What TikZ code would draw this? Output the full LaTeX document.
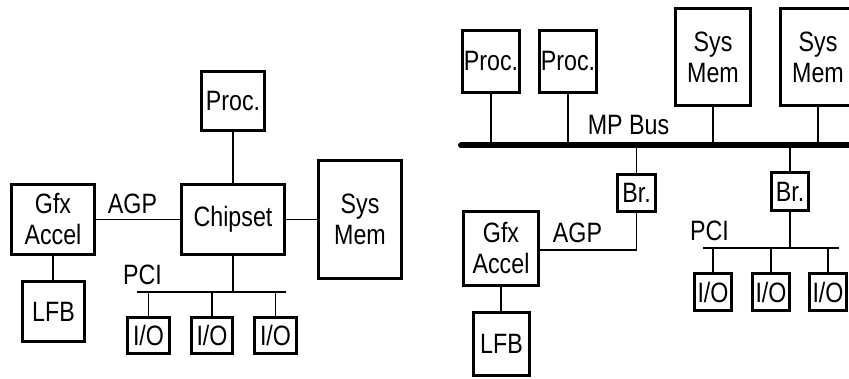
\documentclass[tikz,border=0pt]{standalone}
\usepackage{fontspec}
\setmainfont{Liberation Sans}[FakeStretch=0.83]
\usetikzlibrary{calc}

\begin{document}
\begin{tikzpicture}[x=1pt, y=-1pt,
  unit/.style={draw, line width=3pt, inner sep=0pt, align=center,
    font=\fontsize{28}{31}\selectfont},
  wire/.style={line width=1.7pt},
  mpbus/.style={line width=6pt, line cap=round},
  lbl/.style={inner sep=0pt, font=\fontsize{28}{31}\selectfont}]
  \clip (0,0) rectangle (849,379);

  % single processor system
  \node[unit, minimum width=63, minimum height=59] (procL) at (233,101) {Proc.};
  \node[unit, minimum width=103, minimum height=70] (chip) at (233,219.5) {Chipset};
  \node[unit, minimum width=83, minimum height=70] (gfxL) at (53,219.5) {Gfx\\Accel};
  \node[unit, minimum width=83, minimum height=118] (memL) at (360,219.5) {Sys\\Mem};
  \node[unit, minimum width=62, minimum height=60] (lfbL) at (53.5,311.5) {LFB};
  \node[unit, minimum width=42, minimum height=36] (ioL1) at (148.5,335.5) {I/O};
  \node[unit, minimum width=41, minimum height=36] (ioL2) at (212,335.5) {I/O};
  \node[unit, minimum width=42, minimum height=36] (ioL3) at (275.5,335.5) {I/O};
  \node[lbl] (agpL) at (132.5,204) {AGP};
  \node[lbl, anchor=west] (pciL) at (123,275) {PCI};
  \coordinate (pciLa) at (137,292);
  \coordinate (pciLb) at (286,292);

  \draw[wire] (procL) -- (chip);
  \draw[wire] (gfxL) -- (chip);
  \draw[wire] (chip) -- (memL);
  \draw[wire] (gfxL.south) -- (gfxL.south |- lfbL.north);
  \draw[wire] (pciLa) -- (pciLb);
  \draw[wire] (chip.south) -- (chip.south |- pciLa);
  \foreach \io in {ioL1,ioL2,ioL3}
    \draw[wire] (\io.north) -- (\io.north |- pciLa);

  % multiprocessor system
  \node[unit, minimum width=57, minimum height=62] (proc1) at (491,61.5) {Proc.};
  \node[unit, minimum width=57, minimum height=62] (proc2) at (568,61.5) {Proc.};
  \node[unit, minimum width=75, minimum height=97] (mem1) at (713,57) {Sys\\Mem};
  \node[unit, minimum width=75, minimum height=97] (mem2) at (818,57) {Sys\\Mem};
  \node[lbl] (mpb) at (628.5,125.5) {MP Bus};
  \coordinate (busA) at (461,145.5);
  \coordinate (busB) at (870,145.5);
  \node[unit, minimum width=38, minimum height=37] (br1) at (636.5,193) {Br.};
  \node[unit, minimum width=37, minimum height=38] (br2) at (790,192) {Br.};
  \node[unit, minimum width=75, minimum height=74] (gfxR) at (501,248.5) {Gfx\\Accel};
  \node[unit, minimum width=56, minimum height=63] (lfbR) at (501.5,344) {LFB};
  \node[lbl] (agpR) at (577.5,233) {AGP};
  \node[lbl, anchor=west] (pciR) at (690,231) {PCI};
  \coordinate (pciRa) at (703,248);
  \coordinate (pciRb) at (839,248);
  \node[unit, minimum width=37, minimum height=37] (ioR1) at (713,292) {I/O};
  \node[unit, minimum width=37, minimum height=37] (ioR2) at (771,292) {I/O};
  \node[unit, minimum width=37, minimum height=37] (ioR3) at (828,292) {I/O};

  \draw[mpbus] (busA) -- (busB);
  \foreach \top in {proc1,proc2,mem1,mem2}
    \draw[wire] (\top.south) -- (\top.south |- busA);
  \draw[wire] (br1.north) -- (br1.north |- busA);
  \draw[wire] (br2.north) -- (br2.north |- busA);
  \draw[wire] (gfxR.east |- 0,250) -| (br1.south);
  \draw[wire] (gfxR.south) -- (gfxR.south |- lfbR.north);
  \draw[wire] (pciRa) -- (pciRb);
  \draw[wire] (br2.south) -- (br2.south |- pciRa);
  \foreach \io in {ioR1,ioR2,ioR3}
    \draw[wire] (\io.north) -- (\io.north |- pciRa);
\end{tikzpicture}
\end{document}
